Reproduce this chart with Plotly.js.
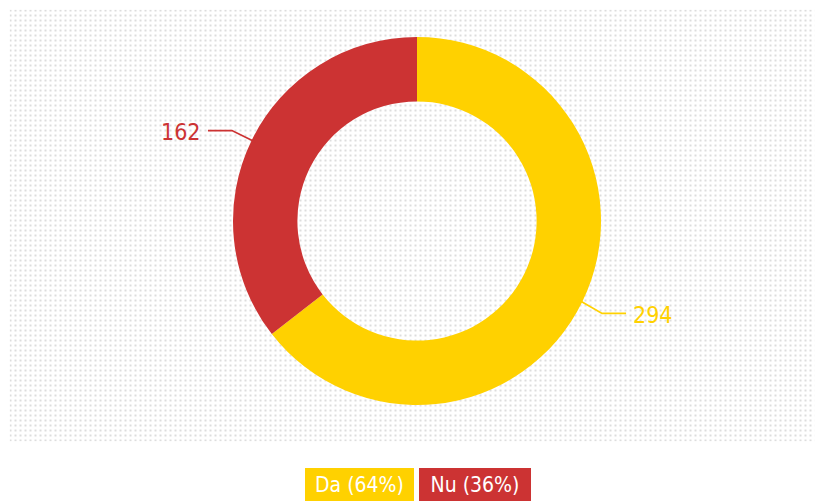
<!DOCTYPE html>
<html>
<head>
<meta charset="utf-8">
<script src="https://cdn.plot.ly/plotly-3.0.1.min.js"></script>
<style>
html,body{margin:0;padding:0;background:#fff;}
#chart{width:815px;height:501px;}
</style>
</head>
<body>
<div id="chart"></div>
<script>
// ---- data ----
const labels = ['Da', 'Nu'];
const values = [294, 162];
const colors = ['#FFD100', '#CC3333'];

// ---- layout geometry (pixels) ----
const W = 815, H = 501;
const cx = 417, cy = 221, R = 184;
const FONT = '"DejaVu Sans Condensed", "Liberation Sans Narrow", "Noto Sans", sans-serif';

const px = x => x / W;
const py = y => 1 - y / H;

const total = values.reduce((a, b) => a + b, 0);

// dotted background as svg pattern
const bgW = 805, bgH = 432;
const svg = '<svg xmlns="http://www.w3.org/2000/svg" width="' + bgW + '" height="' + bgH + '">' +
  '<defs><pattern id="p" width="5" height="5" patternUnits="userSpaceOnUse">' +
  '<rect x="0" y="0" width="2" height="2" fill="#e4e4e4"/>' +
  '<rect x="0.5" y="0.5" width="1" height="1" fill="#c8c8c8"/>' +
  '</pattern></defs><rect width="100%" height="100%" fill="url(#p)"/></svg>';
const bgSrc = 'data:image/svg+xml;base64,' + btoa(svg);

const shapes = [];
const annotations = [];
let cum = 0;
values.forEach((v, i) => {
  const mid = (cum + v / 2) / total * 2 * Math.PI;
  cum += v;
  const s = Math.sin(mid), c = Math.cos(mid);
  const x0 = cx + (R - 4) * s, y0 = cy - (R - 4) * c;
  const r1 = R + 22;
  const x1 = cx + r1 * s, y1 = cy - r1 * c + (c < 0 ? 2 : 0);
  const dir = s >= 0 ? 1 : -1;
  const x2 = x1 + dir * 24;
  shapes.push({
    type: 'path', xref: 'paper', yref: 'paper',
    path: 'M ' + px(x0) + ' ' + py(y0) + ' L ' + px(x1) + ' ' + py(y1) + ' L ' + px(x2) + ' ' + py(y1),
    line: {color: colors[i], width: 1.8},
    layer: 'above'
  });
  annotations.push({
    xref: 'paper', yref: 'paper',
    x: px(x2 + dir * 5), y: py(y1 + 1.5),
    xanchor: dir > 0 ? 'left' : 'right', yanchor: 'middle',
    text: String(v), showarrow: false,
    font: {family: FONT, size: 23, color: colors[i]}
  });
});

// legend boxes
const legW = [107, 110];
labels.forEach((l, i) => {
  const pct = Math.round(values[i] / total * 100);
  annotations.push({
    xref: 'paper', yref: 'paper',
    x: i === 0 ? px(414) : px(419), y: py(468),
    xanchor: i === 0 ? 'right' : 'left', yanchor: 'top',
    text: l + ' (' + pct + '%)', showarrow: false,
    bgcolor: colors[i], bordercolor: colors[i], borderwidth: 1, borderpad: 0,
    width: legW[i], height: 32, valign: 'middle', align: 'center',
    font: {family: FONT, size: 21, color: '#ffffff'}
  });
});

const data = [{
  type: 'pie',
  labels: labels,
  values: values,
  hole: 0.65,
  sort: false,
  direction: 'clockwise',
  rotation: 0,
  textinfo: 'none',
  hoverinfo: 'label+value+percent',
  marker: {colors: colors, line: {width: 0}},
  domain: {x: [px(cx - R), px(cx + R)], y: [py(cy + R), py(cy - R)]},
  showlegend: false
}];

const layout = {
  width: W, height: H,
  margin: {l: 0, r: 0, t: 0, b: 0},
  paper_bgcolor: '#ffffff',
  showlegend: false,
  images: [{
    source: bgSrc, xref: 'paper', yref: 'paper',
    x: px(9.5), y: py(9.5), sizex: bgW / W, sizey: bgH / H,
    xanchor: 'left', yanchor: 'top', sizing: 'stretch', layer: 'below'
  }],
  shapes: shapes,
  annotations: annotations
};

Plotly.newPlot('chart', data, layout, {displayModeBar: false, staticPlot: true});
</script>
</body>
</html>
